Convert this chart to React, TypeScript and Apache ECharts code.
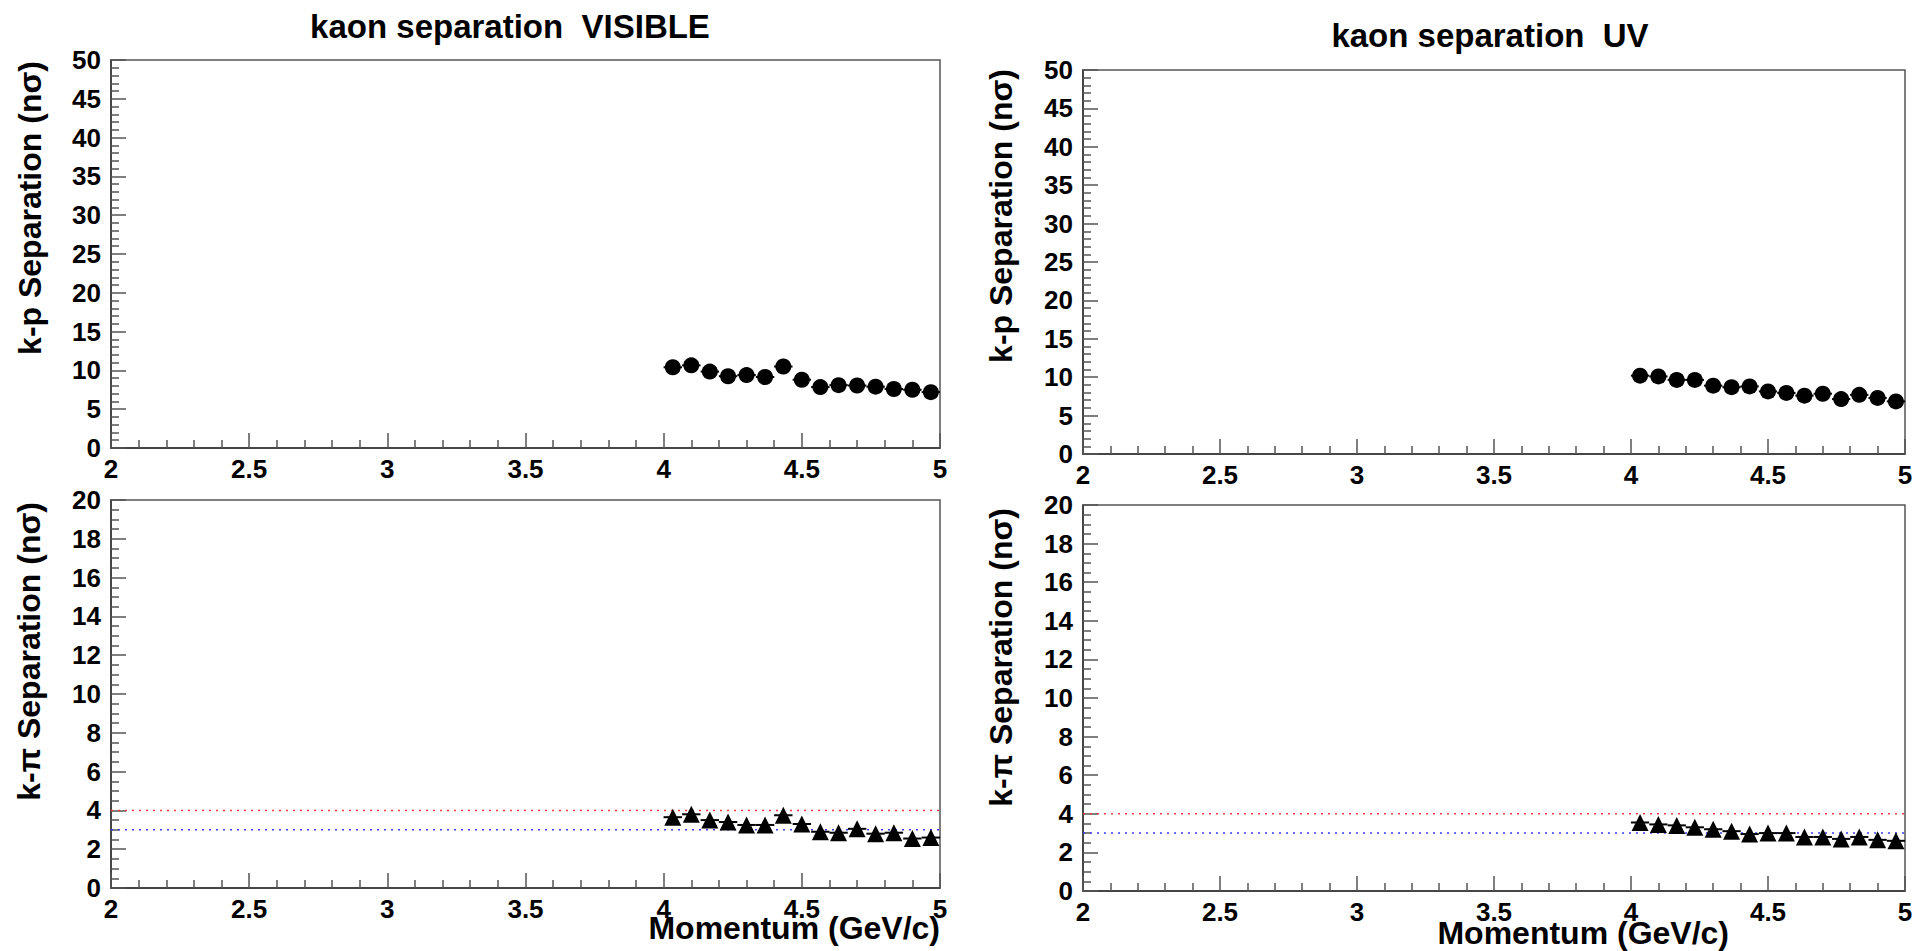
import React, { useEffect, useRef } from 'react';
import * as echarts from 'echarts';

// Bin centers of momentum (GeV/c)
const momentum = [4.033, 4.1, 4.167, 4.233, 4.3, 4.367, 4.433, 4.5, 4.567, 4.633, 4.7, 4.767, 4.833, 4.9, 4.967];
const binHalfWidth = 0.0333;

// k-p separation (n sigma)
const kpVisible = [10.4, 10.65, 9.85, 9.25, 9.4, 9.15, 10.5, 8.8, 7.85, 8.1, 8.05, 7.9, 7.6, 7.5, 7.2];
const kpUV = [10.2, 10.1, 9.65, 9.65, 8.9, 8.7, 8.8, 8.15, 7.95, 7.6, 7.85, 7.15, 7.7, 7.3, 6.85];

// k-pi separation (n sigma)
const kpiVisible = [3.65, 3.8, 3.5, 3.4, 3.25, 3.25, 3.75, 3.3, 2.9, 2.85, 3.05, 2.8, 2.85, 2.55, 2.6];
const kpiUV = [3.55, 3.45, 3.4, 3.3, 3.2, 3.1, 2.95, 3.0, 3.0, 2.8, 2.8, 2.7, 2.8, 2.65, 2.6];

// reference lines in k-pi panels
const redThreshold = 4;
const blueThreshold = 3;

const xRange = [2, 5];
const titles = ['kaon separation  VISIBLE', 'kaon separation  UV'];
const yTitles = ['k-p Separation (nσ)', 'k-π Separation (nσ)'];
const xTitle = 'Momentum (GeV/c)';

const FONT = '"Liberation Sans", Arial, Helvetica, sans-serif';

export default function App() {
  const ref = useRef<HTMLDivElement>(null);

  useEffect(() => {
    if (!ref.current) return;
    const chart = echarts.init(ref.current, undefined, { renderer: 'svg' });

    const grids = [
      { left: 111, top: 60, width: 829, height: 388 },
      { left: 1083, top: 70, width: 822, height: 384 },
      { left: 111, top: 500, width: 829, height: 388 },
      { left: 1083, top: 505, width: 822, height: 386 },
    ].map((g) => ({
      ...g,
      show: true,
      borderColor: '#555',
      borderWidth: 1.5,
      backgroundColor: 'transparent',
      containLabel: false,
      outerBoundsMode: 'none',
    }));

    const axisCommon = {
      type: 'value' as const,
      splitLine: { show: false },
      axisLine: { show: true, lineStyle: { color: '#333', width: 1.5 } },
      axisTick: { show: true, inside: true, length: 15, lineStyle: { color: '#555', width: 1.5 } },
      minorTick: { show: true, length: 8, lineStyle: { color: '#555', width: 1.5 } },
      minorSplitLine: { show: false },
    };

    const xAxes = [0, 1, 2, 3].map((i) => ({
      ...axisCommon,
      gridIndex: i,
      min: xRange[0],
      max: xRange[1],
      interval: 0.5,
      minorTick: { ...axisCommon.minorTick, splitNumber: 5 },
      axisLabel: { color: '#000', fontWeight: 'bold', fontSize: 26, fontFamily: FONT, margin: 8 },
    }));

    const yAxes = [0, 1, 2, 3].map((i) => {
      const top = i < 2;
      return {
        ...axisCommon,
        gridIndex: i,
        min: 0,
        max: top ? 50 : 20,
        interval: top ? 5 : 2,
        minorTick: { ...axisCommon.minorTick, splitNumber: top ? 5 : 4 },
        axisLabel: { color: '#000', fontWeight: 'bold', fontSize: 26, fontFamily: FONT, margin: 10 },
      };
    });

    const panels = [
      { values: kpVisible, symbol: 'circle' },
      { values: kpUV, symbol: 'circle' },
      { values: kpiVisible, symbol: 'triangle' },
      { values: kpiUV, symbol: 'triangle' },
    ];

    const series: any[] = [];
    panels.forEach((p, i) => {
      const data = momentum.map((m, k) => [m, p.values[k]]);
      if (i >= 2) {
        series.push({
          type: 'line',
          xAxisIndex: i,
          yAxisIndex: i,
          data: [[xRange[0], redThreshold], [xRange[1], redThreshold]],
          showSymbol: false,
          silent: true,
          z: 1,
          lineStyle: { color: '#ff3b3b', width: 1.5, type: [2, 5] },
        });
        series.push({
          type: 'line',
          xAxisIndex: i,
          yAxisIndex: i,
          data: [[xRange[0], blueThreshold], [xRange[1], blueThreshold]],
          showSymbol: false,
          silent: true,
          z: 1,
          lineStyle: { color: '#3b3bff', width: 1.5, type: [2, 5] },
        });
      }
      series.push({
        type: 'custom',
        xAxisIndex: i,
        yAxisIndex: i,
        data,
        z: 2,
        renderItem: (params: any, api: any) => {
          const x = api.value(0);
          const y = api.value(1);
          const p1 = api.coord([x - binHalfWidth, y]);
          const p2 = api.coord([x + binHalfWidth, y]);
          return {
            type: 'line',
            shape: { x1: p1[0], y1: p1[1], x2: p2[0], y2: p2[1] },
            style: { stroke: '#000', lineWidth: 2 },
          };
        },
      });
      series.push({
        type: 'scatter',
        xAxisIndex: i,
        yAxisIndex: i,
        data,
        symbol: p.symbol,
        symbolSize: p.symbol === 'circle' ? 16 : 17,
        z: 3,
        itemStyle: { color: '#000', opacity: 1 },
      });
    });

    const textStyle = (size: number) => ({ font: `bold ${size}px ${FONT}`, fill: '#000' });

    const graphic = [
      { type: 'text', x: 510, y: 26, style: { ...textStyle(33), text: titles[0], align: 'center', verticalAlign: 'middle' } },
      { type: 'text', x: 1490, y: 35, style: { ...textStyle(33), text: titles[1], align: 'center', verticalAlign: 'middle' } },
      { type: 'text', x: 30, y: 61, rotation: Math.PI / 2, style: { ...textStyle(32), text: yTitles[0], align: 'right', verticalAlign: 'middle' } },
      { type: 'text', x: 1001, y: 69, rotation: Math.PI / 2, style: { ...textStyle(32), text: yTitles[0], align: 'right', verticalAlign: 'middle' } },
      { type: 'text', x: 29, y: 502, rotation: Math.PI / 2, style: { ...textStyle(32), text: yTitles[1], align: 'right', verticalAlign: 'middle' } },
      { type: 'text', x: 1001, y: 508, rotation: Math.PI / 2, style: { ...textStyle(32), text: yTitles[1], align: 'right', verticalAlign: 'middle' } },
      { type: 'text', x: 940, y: 928, style: { ...textStyle(32), text: xTitle, align: 'right', verticalAlign: 'middle' } },
      { type: 'text', x: 1729, y: 933, style: { ...textStyle(32), text: xTitle, align: 'right', verticalAlign: 'middle' } },
    ];

    chart.setOption({
      animation: false,
      backgroundColor: '#fff',
      grid: grids,
      xAxis: xAxes,
      yAxis: yAxes,
      series,
      graphic,
    } as any);

    return () => chart.dispose();
  }, []);

  return <div ref={ref} style={{ position: 'absolute', left: 0, top: 0, width: 1925, height: 951 }} />;
}
